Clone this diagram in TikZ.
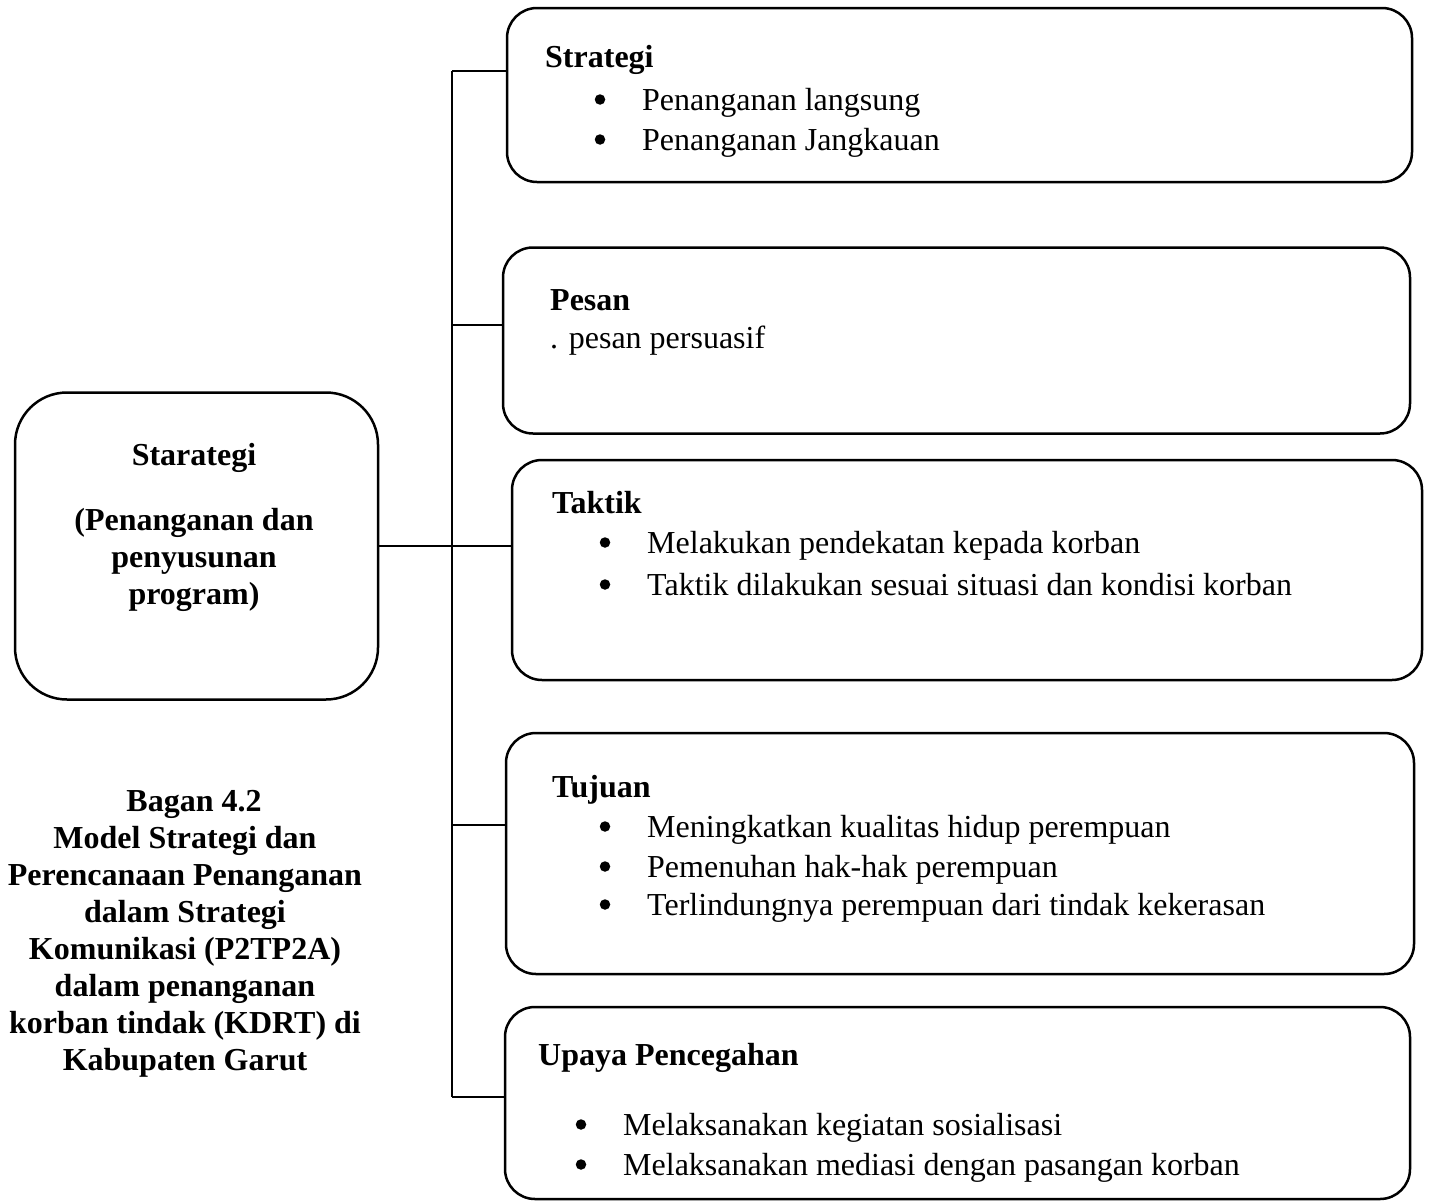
\documentclass[tikz,border=0pt]{standalone}
\usepackage{fontspec}
\setmainfont{Liberation Serif}
\usepackage{tikz}
\usetikzlibrary{positioning}

\begin{document}
\begin{tikzpicture}[
    x=1pt, y=-1pt,
    box/.style={rectangle, draw, rounded corners=30pt, inner sep=0pt, outer sep=0pt, line width=2.5pt},
    mainbox/.style={box, rounded corners=52pt},
    title/.style={anchor=base west, inner sep=0pt, font=\bfseries\fontsize{32}{38}\selectfont},
    dot/.style={circle, fill, inner sep=0pt, minimum size=10.5pt},
    item/.style={anchor=base west, inner sep=0pt, font=\fontsize{32}{38}\selectfont,
        append after command={node[dot] (\tikzlastnode-b) at ([shift={(-42,-10.5)}]\tikzlastnode.base west) {}}},
    plain/.style={anchor=base west, inner sep=0pt, font=\fontsize{32}{38}\selectfont},
    line/.style={draw, line width=2pt}
]
    \useasboundingbox (0,0) rectangle (1430,1202);

    % main box on the left
    \node[mainbox, minimum width=363pt, minimum height=307pt] (main) at (196.5,546) {};
    \node[anchor=base, inner sep=0pt, font=\bfseries\fontsize{32}{37}\selectfont] (mainT) at (194,465) {Starategi};
    \node[anchor=north, inner sep=0pt, align=center, font=\bfseries\fontsize{32}{37}\selectfont] (mainS) at (194,508) {(Penanganan dan\\penyusunan\\program)};

    % caption
    \node[anchor=north, inner sep=0pt, align=center, font=\bfseries\fontsize{32}{37}\selectfont] (caption) at (185,790) {
        \hspace*{18pt}Bagan 4.2\\Model Strategi dan\\Perencanaan Penanganan\\dalam Strategi\\Komunikasi (P2TP2A)\\dalam penanganan\\korban tindak (KDRT) di\\Kabupaten Garut};

    % boxes on the right
    \node[box, minimum width=905pt, minimum height=174pt] (strategi) at (959.5,95) {};
    \node[title] (strategiT) at (545,67) {Strategi};
    \node[item] (strategiA) at (642,110) {Penanganan langsung};
    \node[item] (strategiB) at (642,150) {Penanganan Jangkauan};

    \node[box, minimum width=907pt, minimum height=186pt] (pesan) at (956.5,340.5) {};
    \node[title] (pesanT) at (550,310) {Pesan};
    \node[plain] (pesanA) at (550,348) {. pesan persuasif};

    \node[box, minimum width=910pt, minimum height=220pt] (taktik) at (967,570) {};
    \node[title] (taktikT) at (552,513) {Taktik};
    \node[item] (taktikA) at (647,553) {Melakukan pendekatan kepada korban};
    \node[item] (taktikB) at (647,595) {Taktik dilakukan sesuai situasi dan kondisi korban};

    \node[box, minimum width=908pt, minimum height=241pt] (tujuan) at (960,853.5) {};
    \node[title] (tujuanT) at (552,797) {Tujuan};
    \node[item] (tujuanA) at (647,837) {Meningkatkan kualitas hidup perempuan};
    \node[item] (tujuanB) at (647,877) {Pemenuhan hak-hak perempuan};
    \node[item] (tujuanC) at (647,915) {Terlindungnya perempuan dari tindak kekerasan};

    \node[box, minimum width=905pt, minimum height=192pt] (upaya) at (957.5,1103) {};
    \node[title] (upayaT) at (538,1065) {Upaya Pencegahan};
    \node[item] (upayaA) at (623,1135) {Melaksanakan kegiatan sosialisasi};
    \node[item] (upayaB) at (623,1175) {Melaksanakan mediasi dengan pasangan korban};

    % trunk and branches
    \coordinate (br1) at (452,71);
    \coordinate (br2) at (452,325);
    \coordinate (br4) at (452,825);
    \coordinate (br5) at (452,1097);

    \draw[line] (br1) -- (br5);
    \draw[line] (br1) -- (br1 -| strategi.west);
    \draw[line] (br2) -- (br2 -| pesan.west);
    \draw[line] (main.east) -- (main.east -| taktik.west);
    \draw[line] (br4) -- (br4 -| tujuan.west);
    \draw[line] (br5) -- (br5 -| upaya.west);

\end{tikzpicture}
\end{document}
